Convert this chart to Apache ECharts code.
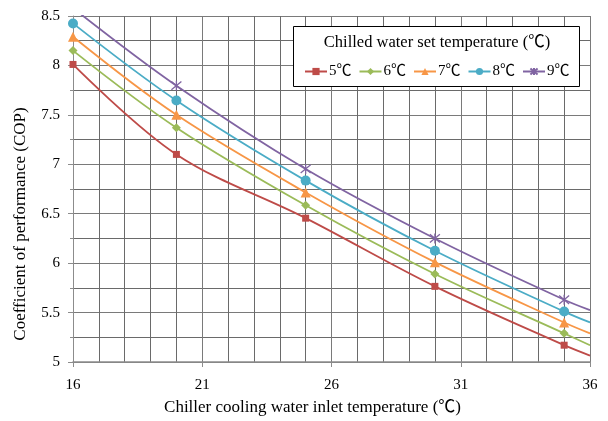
<!DOCTYPE html>
<html><head><meta charset="utf-8">
<script src="https://cdn.jsdelivr.net/npm/echarts@6/dist/echarts.min.js"></script>
<style>html,body{margin:0;padding:0;background:#fff}#c{width:608px;height:421px}</style>
</head><body><div id="c"></div>
<script>
// Chiller cooling water inlet temperature (℃)
const xValues = [16, 20, 25, 30, 35, 36];
// COP for each chilled water set temperature
const cop5 = [8.01, 7.10, 6.455, 5.765, 5.17, 5.065];
const cop6 = [8.15, 7.37, 6.585, 5.89, 5.29, 5.17];
const cop7 = [8.29, 7.50, 6.715, 6.01, 5.40, 5.29];
const cop8 = [8.425, 7.645, 6.835, 6.125, 5.51, 5.40];
const cop9 = [8.58, 7.795, 6.953, 6.25, 5.63, 5.525];
const seriesNames = ['5℃', '6℃', '7℃', '8℃', '9℃'];
const seriesValues = [cop5, cop6, cop7, cop8, cop9];
const colors = ['#BE4B48', '#9BBB59', '#F79646', '#4BACC6', '#8064A2'];
const symbols = ['rect', 'diamond', 'triangle', 'circle', 'path://M0,0L10,10M10,0L0,10M5,-1L5,11'];
const symbolSizes = [7, 9, 10, 10, 10];
const xTicks = [16, 21, 26, 31, 36];
const yTicks = [5, 5.5, 6, 6.5, 7, 7.5, 8, 8.5];

const FONT = '"Liberation Serif", "Noto Sans CJK SC", "Times New Roman", serif';
const chart = echarts.init(document.getElementById('c'), null, {renderer: 'canvas'});

const series = seriesNames.map((name, i) => ({
  name: name,
  type: 'line',
  smooth: 0.35,
  clip: true,
  symbol: symbols[i],
  symbolSize: symbolSizes[i],
  showSymbol: true,
  lineStyle: {color: colors[i], width: 1.8},
  itemStyle: {color: colors[i], borderColor: colors[i], borderWidth: i === 4 ? 1.3 : 0},
  data: xValues.map((x, j) => {
    const v = seriesValues[i][j];
    const item = {value: [x, v]};
    if (j === xValues.length - 1 || v > yTicks[yTicks.length - 1]) item.symbol = 'none';
    return item;
  }),
  z: 2
}));

chart.setOption({
  backgroundColor: '#fff',
  animation: false,
  textStyle: {fontFamily: FONT},
  grid: {left: 73, right: 18, top: 16, bottom: 58, containLabel: false},
  xAxis: {
    type: 'value',
    min: xTicks[0], max: xTicks[xTicks.length - 1], interval: 5,
    name: 'Chiller cooling water inlet temperature (℃)',
    nameLocation: 'middle', nameGap: 37,
    nameTextStyle: {fontFamily: FONT, fontSize: 17, color: '#000', padding: [0, 38, 0, 0]},
    axisLine: {show: true, onZero: false, lineStyle: {color: '#8c8c8c', width: 1.5}},
    axisTick: {show: true, length: 5, lineStyle: {color: '#8c8c8c'}},
    minorTick: {show: false, splitNumber: 5},
    axisLabel: {fontFamily: FONT, fontSize: 15, color: '#000', margin: 16},
    splitLine: {show: true, lineStyle: {color: '#7a7a7a', width: 1}},
    minorSplitLine: {show: true, lineStyle: {color: '#6a6a6a', width: 1}}
  },
  yAxis: {
    type: 'value',
    min: yTicks[0], max: yTicks[yTicks.length - 1], interval: 0.5,
    name: 'Coefficient of performance (COP)',
    nameLocation: 'middle', nameGap: 44, nameRotate: 90,
    nameTextStyle: {fontFamily: FONT, fontSize: 17, color: '#000', padding: [0, 70, 0, 0]},
    axisLine: {show: true, lineStyle: {color: '#8c8c8c', width: 1}},
    axisTick: {show: true, length: 5, lineStyle: {color: '#8c8c8c'}},
    minorTick: {show: true, splitNumber: 2, length: 3, lineStyle: {color: '#8c8c8c'}},
    axisLabel: {fontFamily: FONT, fontSize: 15, color: '#000', margin: 13},
    splitLine: {show: true, lineStyle: {color: '#7a7a7a', width: 1}},
    minorSplitLine: {show: true, lineStyle: {color: '#6a6a6a', width: 1}}
  },
  graphic: [
    {type: 'rect', z: 3, shape: {x: 293.5, y: 26.5, width: 286, height: 60},
     style: {fill: '#fff', stroke: '#000', lineWidth: 1}},
    {type: 'text', z: 4, x: 437, y: 43,
     style: {text: 'Chilled water set temperature (℃)', font: '16.5px ' + FONT, fill: '#000',
             textAlign: 'center', textVerticalAlign: 'middle'}}
  ],
  legend: {
    show: true,
    data: seriesNames,
    left: 304, top: 64,
    itemWidth: 22, itemHeight: 9, itemGap: 7,
    padding: 0,
    textStyle: {fontFamily: FONT, fontSize: 15, color: '#000', padding: [0, 0, 0, -3]},
    z: 5
  },
  series: series
});
</script>
</body></html>
